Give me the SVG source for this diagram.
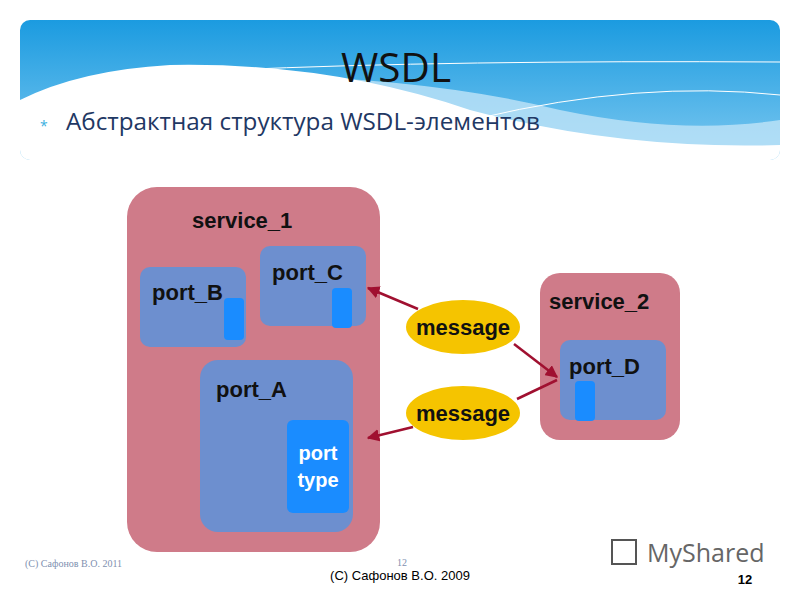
<svg xmlns="http://www.w3.org/2000/svg" width="800" height="600" viewBox="0 0 800 600">
<defs>
<linearGradient id="sky" x1="0" y1="0" x2="0" y2="1"><stop offset="0" stop-color="#1b9be0"/><stop offset="1" stop-color="#7cc8f0"/></linearGradient>
<clipPath id="hc"><rect x="20" y="20" width="760" height="140" rx="10"/></clipPath>
<marker id="ah" viewBox="0 0 10 10" refX="9" refY="5" markerWidth="5" markerHeight="5" orient="auto"><path d="M0,0L10,5L0,10z" fill="#a01030"/></marker>
<style>
.svc{fill:#cf7b89}.port{fill:#6d8fcf}.pt{fill:#1a8cff}
.lbl{font-family:"Liberation Sans",Arial,sans-serif;font-weight:bold;font-size:22px;fill:#111}
.msg{fill:#f5c400}.con{stroke:#a01030;stroke-width:2.5;fill:none}
</style>
</defs>
<rect width="800" height="600" fill="#fff"/>
<g clip-path="url(#hc)">
<rect x="20" y="20" width="760" height="140" fill="url(#sky)"/>
<path d="M150,75 Q400,70 560,110 Q680,135 780,120 L780,160 L500,160z" fill="#bfe3f7" opacity="0.8"/>
<path d="M20,100 Q80,70 170,65 Q330,62 470,110 Q620,150 780,145 L780,160 L20,160z" fill="#fff"/>
<path d="M230,70 Q450,60 780,62" stroke="#fff" stroke-width="1" fill="none"/>
<path d="M480,118 Q640,80 780,95" stroke="#fff" stroke-width="1" fill="none"/>
</g>
<text x="396" y="82" text-anchor="middle" font-family="Open Sans,sans-serif" font-size="40" fill="#111" textLength="110" lengthAdjust="spacingAndGlyphs">WSDL</text>
<text x="40" y="131" font-family="Open Sans,sans-serif" font-size="14" fill="#3ab0e0">*</text>
<text x="66" y="130" font-family="Open Sans,sans-serif" font-size="23" fill="#1f3864" textLength="474" lengthAdjust="spacingAndGlyphs">Абстрактная структура WSDL-элементов</text>
<g id="service_1"><rect class="svc" x="127" y="187" width="253" height="365" rx="30"/><text class="lbl" x="192" y="228">service_1</text></g>
<g id="port_B"><rect class="port" x="140" y="267" width="106" height="80" rx="10"/><text class="lbl" x="152" y="300">port_B</text><rect class="pt" x="224" y="298" width="20" height="42" rx="4"/></g>
<g id="port_C"><rect class="port" x="260" y="246" width="106" height="80" rx="10"/><text class="lbl" x="272" y="280">port_C</text><rect class="pt" x="332" y="288" width="20" height="40" rx="4"/></g>
<g id="port_A"><rect class="port" x="200" y="360" width="153" height="172" rx="18"/><text class="lbl" x="216" y="397">port_A</text>
<rect class="pt" x="287" y="420" width="62" height="93" rx="6"/>
<text class="lbl" x="318" y="460" text-anchor="middle" style="fill:#fff;font-size:20px">port</text>
<text class="lbl" x="318" y="487" text-anchor="middle" style="fill:#fff;font-size:20px">type</text></g>
<g id="service_2"><rect class="svc" x="540" y="273" width="140" height="167" rx="20"/><text class="lbl" x="549" y="309">service_2</text></g>
<g id="port_D"><rect class="port" x="560" y="340" width="106" height="80" rx="10"/><text class="lbl" x="569" y="374">port_D</text><rect class="pt" x="575" y="381" width="20" height="40" rx="4"/></g>
<g id="message1"><ellipse class="msg" cx="463" cy="327" rx="57" ry="27"/><text class="lbl" x="463" y="335" text-anchor="middle">message</text></g>
<g id="message2"><ellipse class="msg" cx="463" cy="413" rx="57" ry="27"/><text class="lbl" x="463" y="421" text-anchor="middle">message</text></g>
<g id="connectors">
<line class="con" x1="418" y1="309" x2="368" y2="288" marker-end="url(#ah)"/>
<line class="con" x1="514" y1="344" x2="557" y2="377" marker-end="url(#ah)"/>
<line class="con" x1="557" y1="380" x2="517" y2="399"/>
<line class="con" x1="413" y1="427" x2="368" y2="438" marker-end="url(#ah)"/>
</g>
<text x="25" y="567" font-family="Liberation Serif,serif" font-size="10" fill="#8090b0">(C)  Сафонов В.О. 2011</text>
<text x="402" y="566" font-family="Liberation Serif,serif" font-size="10" fill="#8090b0" text-anchor="middle">12</text>
<text x="400" y="580" font-family="Liberation Sans,sans-serif" font-size="13" fill="#000" text-anchor="middle">(C)  Сафонов В.О. 2009</text>
<text x="745" y="584" font-family="Liberation Sans,sans-serif" font-size="13" font-weight="bold" fill="#000" text-anchor="middle">12</text>
<g id="logo"><rect x="612" y="540" width="24" height="24" fill="none" stroke="#555" stroke-width="2"/>
<text x="647" y="562" font-family="Open Sans,sans-serif" font-size="25" fill="#666">MyShared</text></g>
</svg>
